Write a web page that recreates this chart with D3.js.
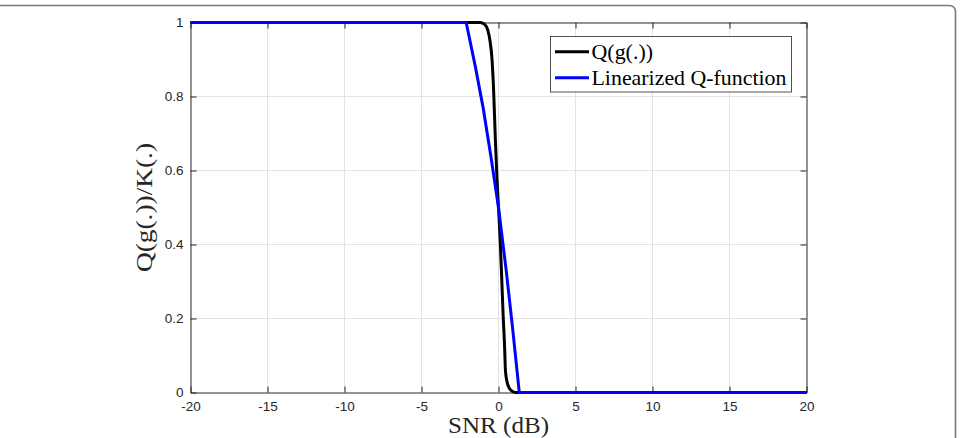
<!DOCTYPE html>
<html>
<head>
<meta charset="utf-8">
<script src="https://cdn.jsdelivr.net/npm/d3@7"></script>
<style>
	body { margin: 0; background: #fff; }
	svg { display: block; }
</style>
</head>
<body>
<div id="chart"></div>
<script>
// data
var xTicks = [-20, -15, -10, -5, 0, 5, 10, 15, 20];
var xTickLabels = ["-20", "-15", "-10", "-5", "0", "5", "10", "15", "20"];
var yTicks = [0, 0.2, 0.4, 0.6, 0.8, 1];
var yTickLabels = ["0", "0.2", "0.4", "0.6", "0.8", "1"];

// Q(g(.)) curve
var snrQ = [-20, -1.2, -0.9, -0.7, -0.55, -0.42, -0.32, -0.2, -0.1, 0, 0.1, 0.2, 0.3, 0.4, 0.45, 0.55, 0.7, 0.9, 1.1, 20];
var valQ = [1, 1, 0.995, 0.98, 0.95, 0.9, 0.82, 0.68, 0.58, 0.5, 0.42, 0.32, 0.21, 0.12, 0.06, 0.03, 0.012, 0.003, 0, 0];

// linearized Q-function
var snrLin = [-20, -2.1, -1.5, -1, -0.5, 0, 0.5, 0.9, 1.3, 1.35, 20];
var valLin = [1, 1, 0.88, 0.77, 0.64, 0.5, 0.33, 0.18, 0.02, 0, 0];

var legendNames = ["Q(g(.))", "Linearized Q-function"];
var legendColors = ["#000000", "#0000ff"];

var width = 960, height = 438;

var svg = d3.select("#chart").append("svg")
	.attr("width", width)
	.attr("height", height);

// page frame (only top and right edge visible)
svg.append("rect")
	.attr("x", -20)
	.attr("y", 5.5)
	.attr("width", 975.5)
	.attr("height", 500)
	.attr("rx", 6)
	.attr("fill", "none")
	.attr("stroke", "#7a7a7a")
	.attr("stroke-width", 1.6);

var x = d3.scaleLinear().domain([-20, 20]).range([190.5, 806.5]);
var y = d3.scaleLinear().domain([0, 1]).range([392.5, 22.5]);

// grid
var grid = svg.append("g").attr("class", "grid");
grid.selectAll("line.gx")
	.data(xTicks.slice(1, -1))
	.enter().append("line")
	.attr("x1", d => x(d)).attr("x2", d => x(d))
	.attr("y1", y(0)).attr("y2", y(1))
	.attr("stroke", "#e3e3e3").attr("stroke-width", 1);
grid.selectAll("line.gy")
	.data(yTicks.slice(1, -1))
	.enter().append("line")
	.attr("y1", d => y(d)).attr("y2", d => y(d))
	.attr("x1", x(-20)).attr("x2", x(20))
	.attr("stroke", "#e3e3e3").attr("stroke-width", 1);

// axes, ticks pointing inward like matlab
var tickLen = 6;
var axisColor = "#262626";
var xAxisB = d3.axisBottom(x).tickValues(xTicks).tickSizeInner(-tickLen).tickSizeOuter(0).tickPadding(9)
	.tickFormat((d, i) => xTickLabels[i]);
var xAxisT = d3.axisTop(x).tickValues(xTicks).tickSizeInner(-tickLen).tickSizeOuter(0).tickFormat("");
var yAxisL = d3.axisLeft(y).tickValues(yTicks).tickSizeInner(-tickLen).tickSizeOuter(0).tickPadding(7)
	.tickFormat((d, i) => yTickLabels[i]);
var yAxisR = d3.axisRight(y).tickValues(yTicks).tickSizeInner(-tickLen).tickSizeOuter(0).tickFormat("");

function styleAxis(g) {
	g.attr("font-size", 13.5)
		.attr("font-family", "'Liberation Sans', Arial, sans-serif");
	g.select(".domain").attr("stroke", axisColor).attr("stroke-width", 1);
	g.selectAll(".tick line").attr("stroke", axisColor);
	g.selectAll(".tick text").attr("fill", axisColor);
}

svg.append("g").attr("transform", "translate(0," + y(0) + ")").call(xAxisB).call(styleAxis);
svg.append("g").attr("transform", "translate(0," + y(1) + ")").call(xAxisT).call(styleAxis);
svg.append("g").attr("transform", "translate(" + x(-20) + ",0)").call(yAxisL).call(styleAxis);
svg.append("g").attr("transform", "translate(" + x(20) + ",0)").call(yAxisR).call(styleAxis);

// curves
var qData = snrQ.map((s, i) => [s, valQ[i]]);
var linData = snrLin.map((s, i) => [s, valLin[i]]);

svg.append("path")
	.datum(qData)
	.attr("d", d3.line().x(d => x(d[0])).y(d => y(d[1])).curve(d3.curveMonotoneX))
	.attr("fill", "none")
	.attr("stroke", legendColors[0])
	.attr("stroke-width", 3)
	.attr("stroke-linejoin", "round");

svg.append("path")
	.datum(linData)
	.attr("d", d3.line().x(d => x(d[0])).y(d => y(d[1])))
	.attr("fill", "none")
	.attr("stroke", legendColors[1])
	.attr("stroke-width", 3)
	.attr("stroke-linejoin", "round");

// legend
var legend = svg.append("g").attr("class", "legend");
legend.append("rect")
	.attr("x", 550.5).attr("y", 36.5)
	.attr("width", 241).attr("height", 55.5)
	.attr("fill", "#fff")
	.attr("stroke", "#262626")
	.attr("stroke-width", 0.8);

var legendLen = [61.5, 195];
legendNames.forEach(function(name, i) {
	var ly = 51.7 + i * 26;
	legend.append("line")
		.attr("x1", 555).attr("x2", 589)
		.attr("y1", ly).attr("y2", ly)
		.attr("stroke", legendColors[i])
		.attr("stroke-width", 3);
	legend.append("text")
		.attr("x", 591.5).attr("y", ly + 7)
		.attr("textLength", legendLen[i])
		.attr("lengthAdjust", "spacingAndGlyphs")
		.style("font-family", "'Liberation Serif', 'DejaVu Serif', serif")
		.style("font-size", "21px")
		.attr("fill", "#000")
		.text(name);
});

// axis labels
svg.append("text")
	.attr("x", 498.5).attr("y", 433)
	.attr("text-anchor", "middle")
	.attr("textLength", 101)
	.attr("lengthAdjust", "spacingAndGlyphs")
	.style("font-family", "'Liberation Serif', 'DejaVu Serif', serif")
	.style("font-size", "23px")
	.attr("fill", "#262626")
	.text("SNR (dB)");

svg.append("text")
	.attr("transform", "translate(152," + y(0.5) + ") rotate(-90)")
	.attr("text-anchor", "middle")
	.attr("textLength", 129)
	.attr("lengthAdjust", "spacingAndGlyphs")
	.style("font-family", "'Liberation Serif', 'DejaVu Serif', serif")
	.style("font-size", "23px")
	.attr("fill", "#262626")
	.text("Q(g(.))/K(.)");
</script>
</body>
</html>
